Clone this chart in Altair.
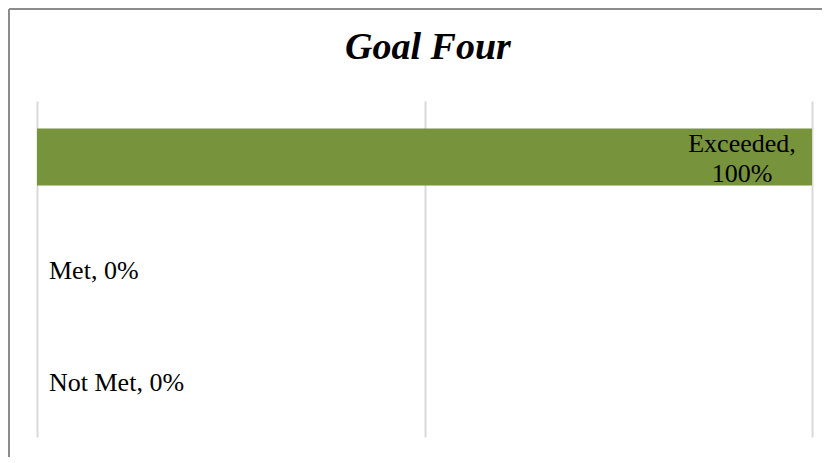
import altair as alt
import pandas as pd

title_text = "Goal Four"
categories = ["Exceeded", "Met", "Not Met"]
values = [1.0, 0.0, 0.0]
pct_labels = ["100%", "0%", "0%"]

df = pd.DataFrame({
    "category": categories,
    "value": values,
    "label": [
        (c + ",\n" + p) if v > 0 else (c + ", " + p)
        for c, v, p in zip(categories, values, pct_labels)
    ],
})

FONT = "Liberation Serif"

y_enc = alt.Y(
    "category:N",
    sort=categories,
    axis=None,
    scale=alt.Scale(paddingInner=0.49, paddingOuter=0.245),
)
x_scale = alt.Scale(domain=[0, 1])

bars = alt.Chart(df).mark_bar(color="#77933C").encode(
    x=alt.X(
        "value:Q",
        scale=x_scale,
        axis=alt.Axis(
            values=[0, 0.5, 1],
            labels=False,
            ticks=False,
            domain=False,
            grid=True,
            gridColor="#D9D9D9",
            gridWidth=2,
            title=None,
        ),
    ),
    y=y_enc,
)

label_big = alt.Chart(df).transform_filter("datum.value > 0").mark_text(
    font=FONT, fontSize=26, align="center", baseline="middle",
    dx=-70, dy=-13, lineBreak="\n", lineHeight=30, color="black",
).encode(
    x=alt.X("value:Q", scale=x_scale),
    y=y_enc,
    text="label:N",
)

label_zero = alt.Chart(df).transform_filter("datum.value <= 0").mark_text(
    font=FONT, fontSize=26, align="left", baseline="middle",
    dx=12, dy=2, color="black",
).encode(
    x=alt.X("value:Q", scale=x_scale),
    y=y_enc,
    text="label:N",
)

title_mark = alt.Chart(pd.DataFrame({"t": [title_text]})).mark_text(
    font=FONT, fontSize=38, fontStyle="italic", fontWeight="bold",
    color="black", align="center", baseline="alphabetic",
).encode(
    x=alt.value(391), y=alt.value(-42), text="t:N"
)

border_top = alt.Chart(df).mark_rule(color="#8C8C8C", strokeWidth=2).encode(
    x=alt.value(-28), x2=alt.value(790), y=alt.value(-92)
)
border_left = alt.Chart(df).mark_rule(color="#8C8C8C", strokeWidth=2).encode(
    x=alt.value(-28), y=alt.value(-92), y2=alt.value(360)
)

chart = alt.layer(
    border_top, border_left, bars, label_big, label_zero, title_mark
).properties(
    width=775,
    height=336,
    padding={"left": 29, "top": 93, "right": 10, "bottom": 20},
    autosize=alt.AutoSizeParams(type="none"),
    background="white",
).configure_view(strokeWidth=0, stroke="transparent")

chart.save("out.html", embed_options={"renderer": "svg", "actions": False})
